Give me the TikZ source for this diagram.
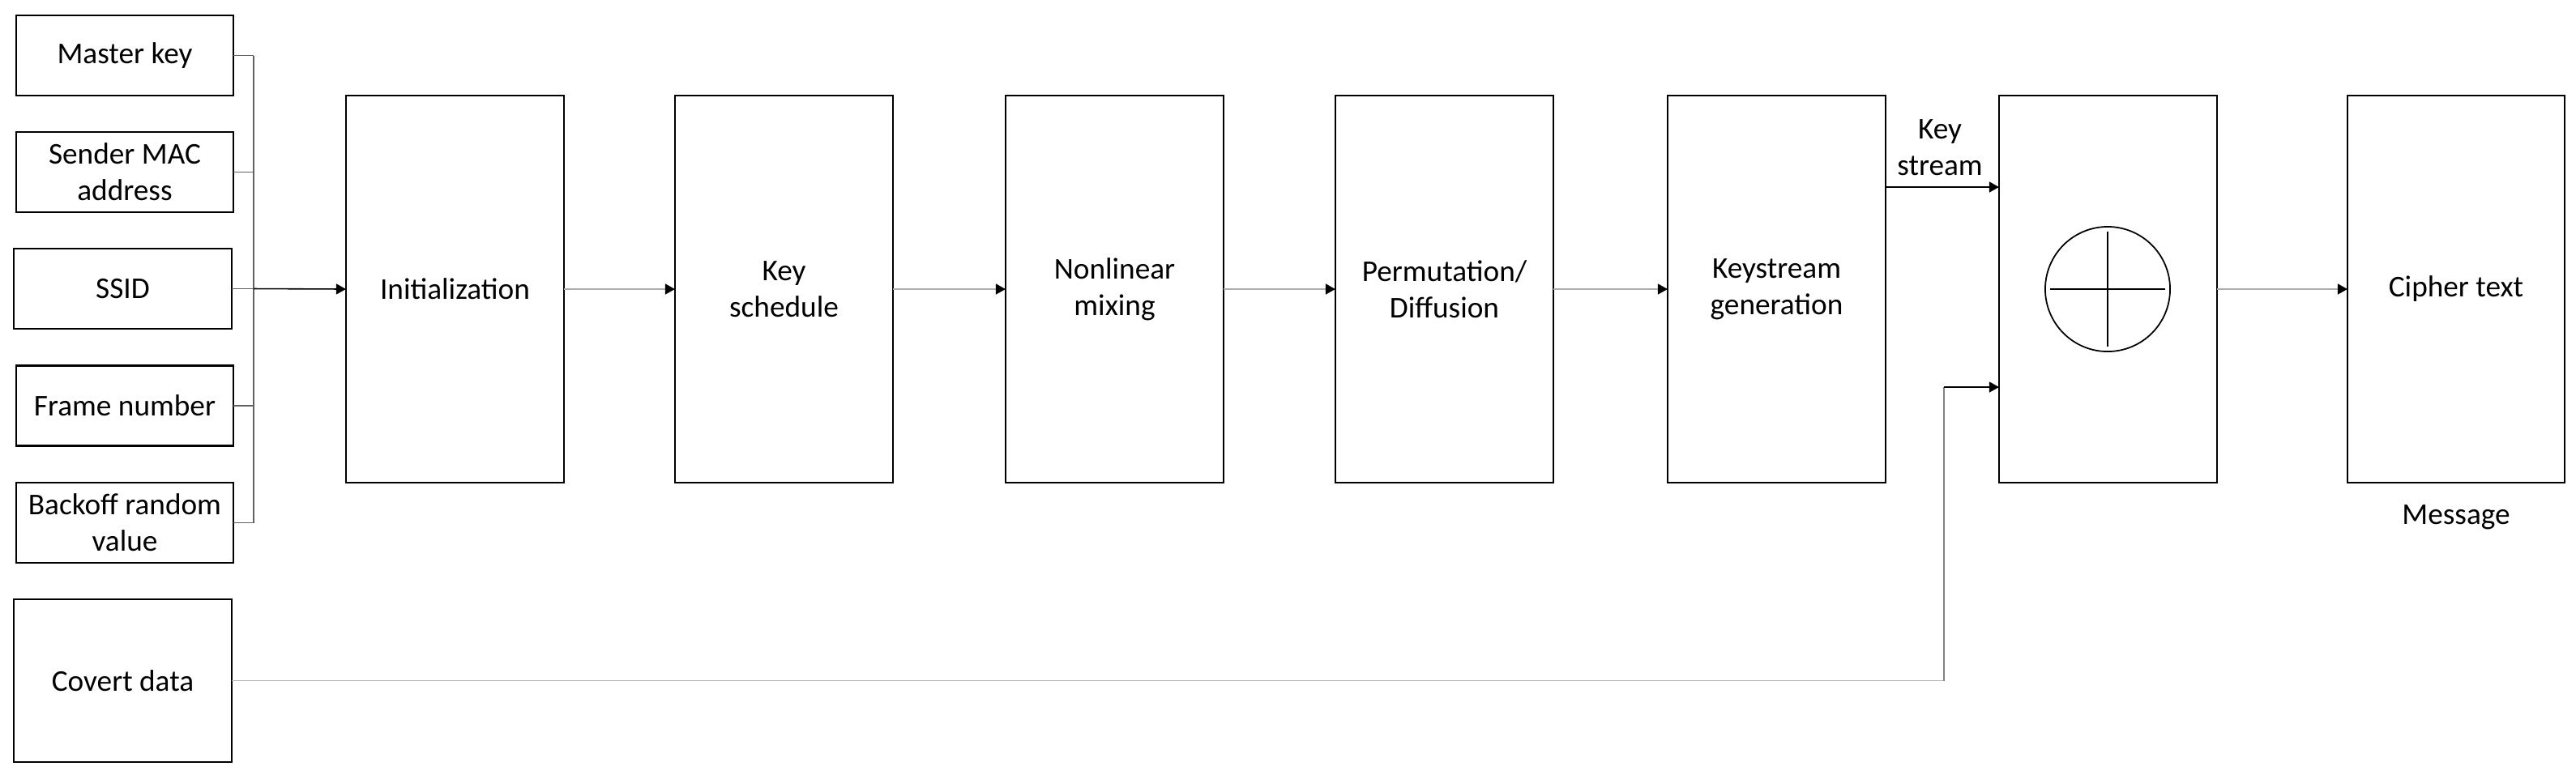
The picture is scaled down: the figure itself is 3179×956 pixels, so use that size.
\documentclass[tikz,border=0pt]{standalone}
\usepackage{fontspec}
\setmainfont{Carlito}
\usetikzlibrary{arrows.meta}
\begin{document}
\begin{tikzpicture}[x=0.01cm,y=-0.01cm,
  box/.style={draw=black, line width=0.6pt, inner sep=0pt, outer sep=0pt, align=center, font=\fontsize{10.6}{12.8}\selectfont},
  inbox/.style={box, minimum width=2.68cm, minimum height=0.99cm},
  pbox/.style={box, minimum width=2.69cm, minimum height=4.78cm},
  lbl/.style={inner sep=0pt, align=center, font=\fontsize{10.6}{12.8}\selectfont},
  stub/.style={draw=black!62, line width=0.4pt},
  tipk/.style={-{Triangle[length=0.12cm,width=0.13cm,color=black]}},
  flow/.style={draw=black!32, line width=0.45pt, tipk},
  blk/.style={draw=black, line width=0.45pt, tipk},
  lgray/.style={draw=black!30, line width=0.45pt},
  mgray/.style={draw=black!50, line width=0.45pt}
]
\path[use as bounding box] (0,0) rectangle (3179,956);

% input boxes
\node[inbox] (mk)   at (154,68.5)   {Master key};
\node[inbox] (smac) at (154,212.5)  {Sender MAC\\address};
\node[inbox] (ssid) at (151.5,356.5){SSID};
\node[inbox] (fn)   at (154,501)    {Frame number};
\node[inbox] (bo)   at (154,645.5)  {Backoff random\\value};
\node[inbox, minimum height=2.01cm] (cd) at (151.5,840.5) {Covert data};

% process boxes
\node[pbox] (init) at (561.5,357)  {Initialization};
\node[pbox] (ks)   at (967.5,357)  {Key\\schedule};
\node[pbox] (nl)   at (1375.5,357) {Nonlinear\\mixing};
\node[pbox] (pd)   at (1782.5,357) {Permutation/\\Diffusion};
\node[pbox] (kg)   at (2192.5,357) {Keystream\\generation};
\node[pbox] (xor)  at (2601.5,357) {};
\node[pbox, minimum width=2.68cm] (ct) at (3031,357) {Cipher text};

% XOR symbol
\node[draw=black, line width=0.5pt, circle, minimum size=1.54cm, inner sep=0pt] (xc) at (2601,357) {};
\draw[line width=0.5pt] ([xshift=-0.71cm]xc.center) -- ([xshift=0.71cm]xc.center);
\draw[line width=0.5pt] ([yshift=0.71cm]xc.center) -- ([yshift=-0.71cm]xc.center);

% labels
\node[lbl] (kslbl) at (2394,182) {Key\\stream};
\node[lbl] (msg) at (3031,639) {Message};

% bus from inputs
\coordinate (bus) at (313,0);
\draw[stub] (mk.east) -- (mk.east -| bus);
\draw[stub] (smac.east) -- (smac.east -| bus);
\draw[stub] (ssid.east) -- (ssid.east -| bus);
\draw[stub] (fn.east) -- (fn.east -| bus);
\draw[stub] (bo.east) -- (bo.east -| bus);
\draw[stub] (mk.east -| bus) -- (bo.east -| bus);
\draw[blk] (ssid.east -| bus) -- (init.west);

% flow between stages
\draw[flow] (init.east) -- (ks.west);
\draw[flow] (ks.east) -- (nl.west);
\draw[flow] (nl.east) -- (pd.west);
\draw[flow] (pd.east) -- (kg.west);
\draw[flow] (xor.east) -- (ct.west);

% key stream
\coordinate (ksy) at (0,231);
\draw[blk] (kg.east |- ksy) -- (xor.west |- ksy);

% covert data path
\coordinate (cv) at (2399,478);
\draw[lgray] (cd.east) -- (cd.east -| cv);
\draw[mgray] (cd.east -| cv) -- (cv);
\draw[blk] (cv) -- (xor.west |- cv);
\end{tikzpicture}
\end{document}
